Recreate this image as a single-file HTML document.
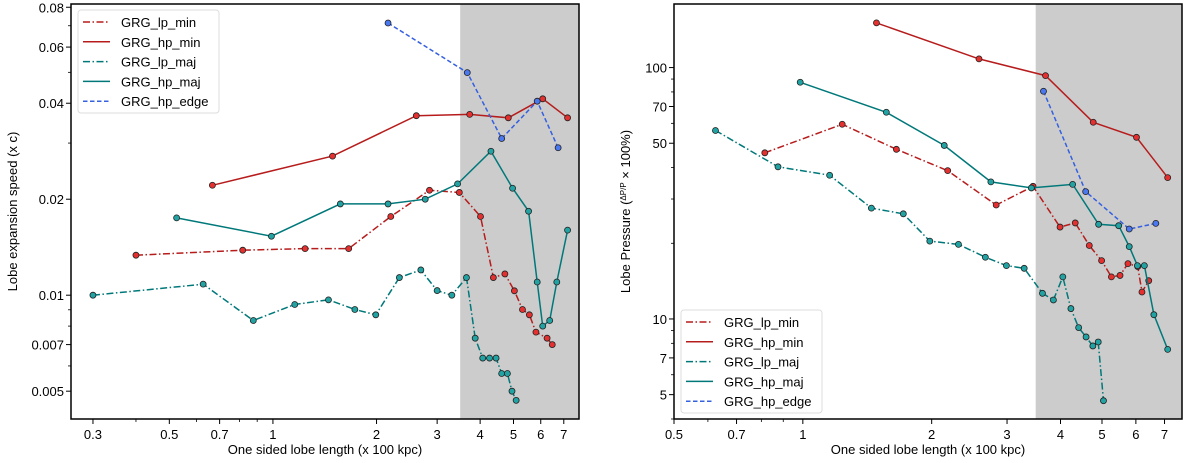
<!DOCTYPE html>
<html><head><meta charset="utf-8"><style>
body{margin:0;background:#fff;}
svg{display:block;font-family:"Liberation Sans","DejaVu Sans",sans-serif;}
</style></head><body>
<svg id="fig" width="1200" height="463" viewBox="0 0 1200 463" xmlns="http://www.w3.org/2000/svg"></svg>
<script>
// ---- Left panel data (lobe expansion speed) ----
const L_lpmin_x=[0.40,0.817,1.24,1.66,2.20,2.85,3.48,4.01,4.37,4.72,5.03,5.31,5.56,5.81,6.26,6.48];
const L_lpmin_y=[0.01335,0.01384,0.0140,0.0140,0.01765,0.02134,0.0210,0.01765,0.01136,0.01166,0.01032,0.00902,0.00868,0.00766,0.00733,0.0070];
const L_hpmin_x=[0.667,1.49,2.61,3.73,4.83,6.08,7.18];
const L_hpmin_y=[0.02212,0.0273,0.03656,0.0369,0.0360,0.0413,0.0360];
const L_lpmaj_x=[0.30,0.627,0.877,1.157,1.45,1.73,1.99,2.33,2.69,3.0,3.31,3.65,3.87,4.07,4.26,4.45,4.62,4.80,4.95,5.09];
const L_lpmaj_y=[0.0100,0.01083,0.00833,0.00935,0.00967,0.00902,0.00868,0.01136,0.0120,0.01034,0.0100,0.01136,0.00733,0.00635,0.00635,0.00635,0.00568,0.00568,0.0050,0.00468];
const L_hpmaj_x=[0.525,0.99,1.57,2.16,2.77,3.44,4.30,4.97,5.53,5.86,6.08,6.37,6.68,7.18];
const L_hpmaj_y=[0.01748,0.01531,0.01933,0.01933,0.0200,0.02234,0.02828,0.02165,0.01834,0.0110,0.0080,0.00833,0.0110,0.0160];
const L_edge_x=[2.16,3.67,4.62,5.86,6.74];
const L_edge_y=[0.0714,0.0499,0.0310,0.0406,0.0290];
const L_yticks=[0.005,0.007,0.01,0.02,0.04,0.06,0.08];
const L_ytickLabels=["0.005","0.007","0.01","0.02","0.04","0.06","0.08"];
const L_xticks=[0.3,0.5,0.7,1,2,3,4,5,6,7];
const L_xtickLabels=["0.3","0.5","0.7","1","2","3","4","5","6","7"];
// ---- Right panel data (lobe pressure) ----
const R_lpmin_x=[0.815,1.236,1.654,2.18,2.83,3.45,3.99,4.33,4.67,4.99,5.26,5.51,5.75,6.06,6.20,6.43];
const R_lpmin_y=[45.8,59.5,47.3,38.9,28.4,33.7,23.2,24.1,19.6,17.06,14.7,14.9,16.6,16.15,12.8,14.2];
const R_hpmin_x=[1.486,2.58,3.69,4.77,6.02,7.12];
const R_hpmin_y=[150.6,108.3,92.9,60.6,52.8,36.5];
const R_lpmaj_x=[0.625,0.875,1.155,1.446,1.717,1.98,2.31,2.67,2.99,3.29,3.63,3.85,4.05,4.23,4.41,4.59,4.76,4.90,5.04];
const R_lpmaj_y=[56.2,40.3,37.3,27.6,26.2,20.4,19.8,17.6,16.3,15.9,12.65,11.9,14.7,11.0,9.24,8.48,7.81,8.1,4.73];
const R_hpmaj_x=[0.986,1.567,2.14,2.75,3.42,4.27,4.91,5.47,5.79,6.05,6.28,6.61,7.12];
const R_hpmaj_y=[87.4,66.4,49.0,35.1,33.2,34.3,23.8,23.5,19.4,16.3,16.3,10.4,7.57];
const R_edge_x=[3.65,4.58,5.79,6.68];
const R_edge_y=[80.5,32.1,22.8,24.0];
const R_yticks=[5,7,10,50,70,100];
const R_ytickLabels=["5","7","10","50","70","100"];
const R_xticks=[0.5,0.7,1,2,3,4,5,6,7];
const R_xtickLabels=["0.5","0.7","1","2","3","4","5","6","7"];

const NS="http://www.w3.org/2000/svg";
const svg=document.getElementById('fig');
function mk(tag,attrs,parent){const e=document.createElementNS(NS,tag);for(const k in attrs)e.setAttribute(k,attrs[k]);(parent||svg).appendChild(e);return e;}
const RED='#b71c1c',RED_F='#e53030',TEAL='#00787a',TEAL_F='#22a3a3',BLUE='#3560e0',BLUE_F='#4a78f0';

function panel(cfg){
  const g=mk('g',{});
  
  
  const lx=Math.log10;
  const X=v=>cfg.x0+(lx(v)-lx(cfg.xmin))/(lx(cfg.xmax)-lx(cfg.xmin))*(cfg.x1-cfg.x0);
  const Y=v=>cfg.y1-(lx(v)-lx(cfg.ymin))/(lx(cfg.ymax)-lx(cfg.ymin))*(cfg.y1-cfg.y0);
  const sh=mk('rect',{x:X(3.5),y:cfg.y0,width:cfg.x1-X(3.5),height:cfg.y1-cfg.y0,fill:'#cccccc'},g);
  
  
  // series
  cfg.series.forEach(s=>{
    const sg=mk('g',{},g);
    
    
    const pts=s.x.map((v,i)=>X(v).toFixed(1)+','+Y(s.y[i]).toFixed(1)).join(' ');
    mk('polyline',{points:pts,fill:'none',stroke:s.c,'stroke-width':1.5,'stroke-dasharray':s.dash},sg);
    s.x.forEach((v,i)=>{
      const c=mk('circle',{cx:X(v),cy:Y(s.y[i]),r:3,fill:s.f,stroke:'#222','stroke-width':0.8},sg);
      
      
    });
  });
  // frame
  mk('rect',{x:cfg.x0,y:cfg.y0,width:cfg.x1-cfg.x0,height:cfg.y1-cfg.y0,fill:'none',stroke:'#000','stroke-width':1.5},g);
  // x ticks
  const xg=mk('g',{},g);
  
  
  cfg.xticks.forEach((v,i)=>{
    mk('line',{x1:X(v),x2:X(v),y1:cfg.y1,y2:cfg.y1+5,stroke:'#000','stroke-width':1},xg);
    const t=mk('text',{x:X(v),y:cfg.y1+20,'text-anchor':'middle','font-size':13},xg);t.textContent=cfg.xtickLabels[i];
  });
  cfg.xminor.forEach(v=>mk('line',{x1:X(v),x2:X(v),y1:cfg.y1,y2:cfg.y1+3,stroke:'#000','stroke-width':0.8},xg));
  const xt=mk('text',{x:cfg.xlabelX,y:cfg.y1+35,'text-anchor':'middle','font-size':13},xg);xt.textContent='One sided lobe length (x 100 kpc)';
  
  
  // y ticks
  const yg=mk('g',{},g);
  
  
  cfg.yticks.forEach((v,i)=>{
    mk('line',{x1:cfg.x0-5,x2:cfg.x0,y1:Y(v),y2:Y(v),stroke:'#000','stroke-width':1},yg);
    const t=mk('text',{x:cfg.x0-7,y:Y(v)+5,'text-anchor':'end','font-size':13},yg);t.textContent=cfg.ytickLabels[i];
  });
  cfg.yminor.forEach(v=>mk('line',{x1:cfg.x0-3,x2:cfg.x0,y1:Y(v),y2:Y(v),stroke:'#000','stroke-width':0.8},yg));
  const yt=mk('text',{transform:`translate(${cfg.ylabelX},${(cfg.y0+cfg.y1)/2}) rotate(-90)`,'text-anchor':'middle','font-size':13},yg);
  
  
  if(cfg.frac){
    yt.textContent='Lobe Pressure (';
    const s1=mk('tspan',{'font-size':8,dy:-4},yt);s1.textContent='ΔP';
    const s2=mk('tspan',{'font-size':8,dy:0},yt);s2.textContent='/P';
    const s3=mk('tspan',{dy:4},yt);s3.textContent=' × 100%)';
  } else yt.textContent=cfg.ylabel;
  // legend
  const lg=mk('g',{},g);
  
  
  mk('rect',{x:cfg.legX,y:cfg.legY,width:141,height:103,rx:3,fill:'#fff','fill-opacity':0.85,stroke:'#ddd'},lg);
  cfg.series.forEach((s,i)=>{
    const yy=cfg.legY+12+i*19.8;
    const e=mk('g',{},lg);
    
    
    mk('line',{x1:cfg.legX+5,x2:cfg.legX+32,y1:yy,y2:yy,stroke:s.c,'stroke-width':1.5,'stroke-dasharray':s.dash},e);
    const t=mk('text',{x:cfg.legX+43,y:yy+5,'font-size':13},e);t.textContent=s.label;
  });
}
function minors(lo,hi,skip){const r=[];for(let d=lo;d<hi;d*=10)for(let k=1;k<10;k++){const v=+(k*d).toPrecision(3);if(!skip.some(s=>Math.abs(s-v)/v<1e-6))r.push(v);}return r;}
const DD='7,2.5,1.5,2.5',DS='4.5,2.5';
panel({name:'left-panel',x0:71,x1:579,y0:4,y1:419,xmin:0.259,xmax:7.75,ymin:0.00409,ymax:0.0819,
  xticks:L_xticks,xtickLabels:L_xtickLabels,xminor:[0.4,0.6,0.8,0.9],
  yticks:L_yticks,ytickLabels:L_ytickLabels,yminor:minors(0.001,0.01,[0.001,0.002,0.003,0.004,0.005,0.007]).filter(v=>v>0.0041).concat([0.03,0.05,0.07]),
  xlabelX:325,ylabelX:17,ylabel:'Lobe expansion speed (x c)',legX:78,legY:10,
  series:[{label:'GRG_lp_min',x:L_lpmin_x,y:L_lpmin_y,c:RED,f:RED_F,dash:DD},
          {label:'GRG_hp_min',x:L_hpmin_x,y:L_hpmin_y,c:RED,f:RED_F,dash:'none'},
          {label:'GRG_lp_maj',x:L_lpmaj_x,y:L_lpmaj_y,c:TEAL,f:TEAL_F,dash:DD},
          {label:'GRG_hp_maj',x:L_hpmaj_x,y:L_hpmaj_y,c:TEAL,f:TEAL_F,dash:'none'},
          {label:'GRG_hp_edge',x:L_edge_x,y:L_edge_y,c:BLUE,f:BLUE_F,dash:DS}]});
panel({name:'right-panel',x0:674,x1:1182,y0:4,y1:419,xmin:0.5,xmax:7.69,ymin:4.0,ymax:179,
  xticks:R_xticks,xtickLabels:R_xtickLabels,xminor:[0.6,0.8,0.9],
  yticks:R_yticks,ytickLabels:R_ytickLabels,yminor:[4,6,8,9,20,30,40,60,80,90],
  xlabelX:928,ylabelX:630,frac:true,legX:681,legY:310,
  series:[{label:'GRG_lp_min',x:R_lpmin_x,y:R_lpmin_y,c:RED,f:RED_F,dash:DD},
          {label:'GRG_hp_min',x:R_hpmin_x,y:R_hpmin_y,c:RED,f:RED_F,dash:'none'},
          {label:'GRG_lp_maj',x:R_lpmaj_x,y:R_lpmaj_y,c:TEAL,f:TEAL_F,dash:DD},
          {label:'GRG_hp_maj',x:R_hpmaj_x,y:R_hpmaj_y,c:TEAL,f:TEAL_F,dash:'none'},
          {label:'GRG_hp_edge',x:R_edge_x,y:R_edge_y,c:BLUE,f:BLUE_F,dash:DS}]});
</script>
</body></html>
